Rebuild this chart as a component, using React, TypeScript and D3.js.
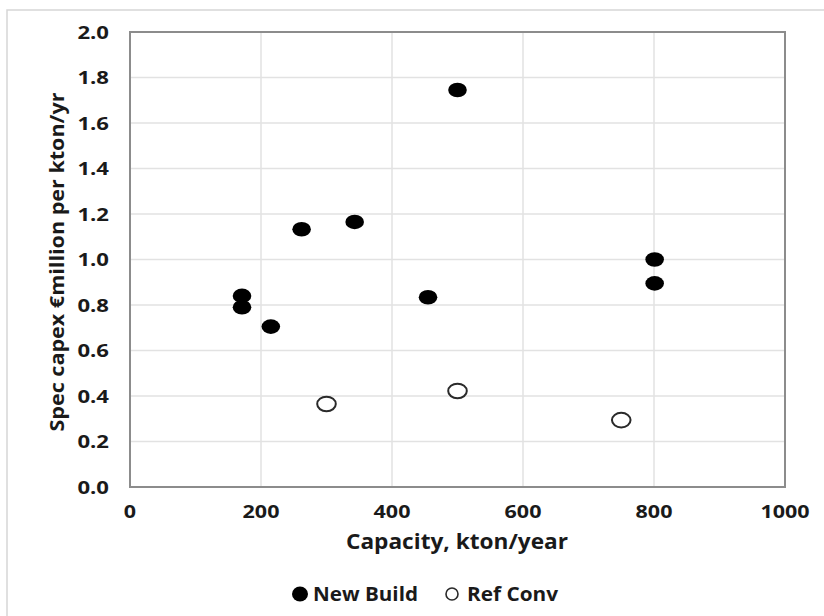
import React from "react";
import * as d3 from "d3";

const newBuildX = [171, 171, 215, 262, 343, 500, 455, 801, 801];
const newBuildY = [0.84, 0.79, 0.705, 1.133, 1.165, 1.745, 0.834, 1.0, 0.895];
const refConvX = [300, 500, 750];
const refConvY = [0.365, 0.422, 0.294];
const xTicks = [0, 200, 400, 600, 800, 1000];
const yTicks = [0, 0.2, 0.4, 0.6, 0.8, 1.0, 1.2, 1.4, 1.6, 1.8, 2.0];
const seriesNames = ["New Build", "Ref Conv"];

const W = 824, H = 616;
const L = 130, R = 785, T = 32, B = 487;
const font = "'Open Sans', sans-serif";

function labelLen(s: string) {
  let w = 0;
  for (const c of s) w += c === "." ? 7 : 12.3;
  return w;
}

export default function App() {
  const x = d3.scaleLinear().domain([0, 1000]).range([L, R]);
  const y = d3.scaleLinear().domain([0, 2]).range([B, T]);
  const rx = 9.3, ry = 7.3;
  const fmt = d3.format(".1f");
  return (
    <svg width={W} height={H} style={{ position: "absolute", left: 0, top: 0, background: "#fff" }}>
      <rect x={7} y={10} width={W + 10} height={H + 10} fill="#fff" stroke="#d6d6d6" strokeWidth={1.5} />
      {yTicks.map((t) => (
        <line key={"gy" + t} x1={L} x2={R} y1={y(t)} y2={y(t)} stroke="#e2e2e2" strokeWidth={1.5} />
      ))}
      {xTicks.map((t) => (
        <line key={"gx" + t} x1={x(t)} x2={x(t)} y1={T} y2={B} stroke="#e2e2e2" strokeWidth={1.5} />
      ))}
      <rect x={L} y={T} width={R - L} height={B - T} fill="none" stroke="#8c8c8c" strokeWidth={2} />
      {yTicks.map((t) => (
        <text key={"ty" + t} x={L - 21} y={y(t) + 1} dy="0.35em" textAnchor="end" fontFamily={font} fontWeight={700} fontSize={17} fill="#1a1a1a"
          textLength={labelLen(fmt(t))} lengthAdjust="spacingAndGlyphs">
          {fmt(t)}
        </text>
      ))}
      {xTicks.map((t) => (
        <text key={"tx" + t} x={x(t)} y={B + 25} dy="0.35em" textAnchor="middle" fontFamily={font} fontWeight={700} fontSize={17} fill="#1a1a1a"
          textLength={labelLen(String(t))} lengthAdjust="spacingAndGlyphs">
          {t}
        </text>
      ))}
      <text x={457} y={542} dy="0.35em" textAnchor="middle" fontFamily={font} fontWeight={700} fontSize={21} fill="#1a1a1a"
        textLength={222} lengthAdjust="spacingAndGlyphs">
        Capacity, kton/year
      </text>
      <text transform={`translate(57,262) rotate(-90)`} dy="0.35em" textAnchor="middle" fontFamily={font} fontWeight={700} fontSize={20} fill="#1a1a1a"
        textLength={339} lengthAdjust="spacingAndGlyphs">
        Spec capex €million per kton/yr
      </text>
      {newBuildX.map((v, i) => (
        <ellipse key={"nb" + i} cx={x(v)} cy={y(newBuildY[i])} rx={rx} ry={ry} fill="#000" />
      ))}
      {refConvX.map((v, i) => (
        <ellipse key={"rc" + i} cx={x(v)} cy={y(refConvY[i])} rx={rx} ry={ry} fill="#fff" stroke="#2a2a2a" strokeWidth={2} />
      ))}
      <g>
        <ellipse cx={300} cy={594} rx={8} ry={7.5} fill="#000" />
        <text x={313} y={594} dy="0.35em" fontFamily={font} fontWeight={700} fontSize={19} fill="#1a1a1a" textLength={105} lengthAdjust="spacingAndGlyphs">{seriesNames[0]}</text>
        <ellipse cx={452} cy={594} rx={6} ry={6} fill="#fff" stroke="#2a2a2a" strokeWidth={1.6} />
        <text x={467} y={594} dy="0.35em" fontFamily={font} fontWeight={700} fontSize={19} fill="#1a1a1a" textLength={91} lengthAdjust="spacingAndGlyphs">{seriesNames[1]}</text>
      </g>
    </svg>
  );
}
